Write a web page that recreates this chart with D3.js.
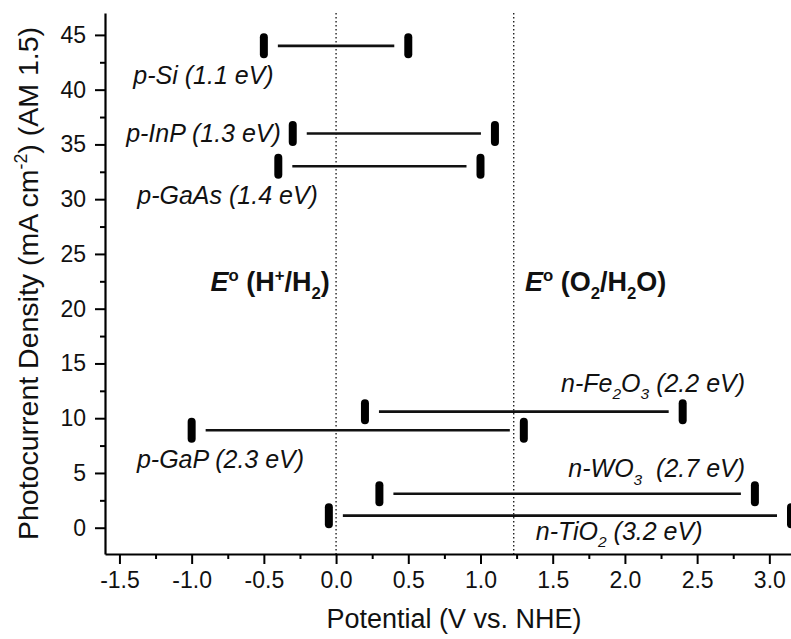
<!DOCTYPE html>
<html>
<head>
<meta charset="utf-8">
<script src="https://cdn.jsdelivr.net/npm/d3@7"></script>
<style>
  body { margin: 0; background: #fff; }
  svg { display: block; font-family: "Liberation Sans", Arial, sans-serif; }
</style>
</head>
<body>
<svg></svg>
<script>
// band edges of each semiconductor (V vs. NHE) and its photocurrent (mA cm-2)
const materials = ["p-Si", "p-InP", "p-GaAs", "n-Fe2O3", "p-GaP", "n-WO3 ", "n-TiO2"];
const bandGaps = ["1.1", "1.3", "1.4", "2.2", "2.3", "2.7", "3.2"];
const cbPotential = [-0.5, -0.3, -0.4, 0.2, -1.0, 0.3, -0.05];
const vbPotential = [0.5, 1.1, 1.0, 2.4, 1.3, 2.9, 3.15];
const photocurrent = [44, 36, 33, 10.6, 8.9, 3.1, 1.1];

// redox potentials drawn as dotted lines
const refPotentials = [0, 1.23];

const xTicks = [-1.5, -1.0, -0.5, 0.0, 0.5, 1.0, 1.5, 2.0, 2.5, 3.0];
const xMinorTicks = [-1.25, -0.75, -0.25, 0.25, 0.75, 1.25, 1.75, 2.25, 2.75];
const yTicks = [0, 5, 10, 15, 20, 25, 30, 35, 40, 45];
const yMinorTicks = [2.5, 7.5, 12.5, 17.5, 22.5, 27.5, 32.5, 37.5, 42.5];

// where each label sits (data units, text centre / baseline)
const labelAnchors = [[-0.918, 40.5], [-0.918, 35.2], [-0.751, 29.55], [2.195, 12.4],
                      [-0.80, 5.45], [2.22, 4.63], [1.96, -1.12]];

const width = 791;
const height = 639;
const margin = {top: 13, right: 0, bottom: 85, left: 105};

const svg = d3.select("svg")
    .attr("width", width)
    .attr("height", height);

const x = d3.scaleLinear()
    .domain([-1.6, 3.15])
    .range([margin.left, width - margin.right]);

const y = d3.scaleLinear()
    .domain([-2.4, 47])
    .range([height - margin.bottom, margin.top]);

const data = materials.map((m, i) => ({
    name: m, gap: bandGaps[i], cb: cbPotential[i], vb: vbPotential[i], j: photocurrent[i]
}));

// append text with sub / sup parts as tspans
function richText(sel, parts, size) {
    let shift = 0;
    parts.forEach(p => {
        const target = p.s === "sub" ? size * 0.3 : p.s === "sup" ? -size * 0.38 : 0;
        sel.append("tspan")
            .attr("dy", target - shift)
            .attr("font-size", p.s ? size * 0.62 : size)
            .attr("font-style", p.i || null)
            .text(p.t);
        shift = target;
    });
}

function formulaParts(name, gap) {
    const parts = [];
    name.split(/(\d)/).forEach(t => {
        if (t === "") return;
        parts.push(/\d/.test(t) ? {t: t, s: "sub"} : {t: t});
    });
    parts.push({t: " (" + gap + " eV)"});
    return parts;
}

// dotted reference lines
svg.selectAll(".ref")
    .data(refPotentials)
    .enter()
    .append("line")
    .attr("class", "ref")
    .attr("x1", d => x(d))
    .attr("x2", d => x(d))
    .attr("y1", y(47))
    .attr("y2", y(-2.4))
    .attr("stroke", "#222")
    .attr("stroke-width", 1.4)
    .attr("stroke-dasharray", "1.4,2.6");

// minor ticks
svg.append("g")
    .attr("transform", `translate(0, ${height - margin.bottom})`)
    .call(d3.axisBottom(x).tickValues(xMinorTicks).tickSize(5).tickFormat(""))
    .call(g => g.select(".domain").remove())
    .selectAll("line").attr("stroke-width", 2);

svg.append("g")
    .attr("transform", `translate(${margin.left}, 0)`)
    .call(d3.axisLeft(y).tickValues(yMinorTicks).tickSize(5).tickFormat(""))
    .call(g => g.select(".domain").remove())
    .selectAll("line").attr("stroke-width", 2);

// main axes
const xAxis = svg.append("g")
    .attr("transform", `translate(0, ${height - margin.bottom})`)
    .call(d3.axisBottom(x).tickValues(xTicks).tickSize(10).tickSizeOuter(0).tickPadding(8)
        .tickFormat(d3.format(".1f")));

const yAxis = svg.append("g")
    .attr("transform", `translate(${margin.left}, 0)`)
    .call(d3.axisLeft(y).tickValues(yTicks).tickSize(10).tickSizeOuter(0).tickPadding(9));

[xAxis, yAxis].forEach(g => {
    g.select(".domain").attr("stroke-width", 2.2);
    g.selectAll(".tick line").attr("stroke-width", 2);
    g.selectAll("text")
        .attr("font-size", 23)
        .attr("font-family", "Liberation Sans, Arial, sans-serif")
        .attr("fill", "#111");
});
xAxis.selectAll("text").text(d => d3.format(".1f")(d).replace("−", "-"));

// connecting lines between band edges
svg.selectAll(".band")
    .data(data)
    .enter()
    .append("line")
    .attr("class", "band")
    .attr("x1", d => x(d.cb) + 14)
    .attr("x2", d => x(d.vb) - 14)
    .attr("y1", d => y(d.j))
    .attr("y2", d => y(d.j))
    .attr("stroke", "#111")
    .attr("stroke-width", 2.6);

// edge markers
const edges = data.flatMap(d => [{v: d.cb, j: d.j}, {v: d.vb, j: d.j}]);
svg.selectAll(".edge")
    .data(edges)
    .enter()
    .append("rect")
    .attr("class", "edge")
    .attr("x", d => x(d.v) - 4)
    .attr("y", d => y(d.j) - 12.5)
    .attr("width", 8)
    .attr("height", 25)
    .attr("rx", 4)
    .attr("fill", "#000");

// material labels
data.forEach((d, i) => {
    const t = svg.append("text")
        .attr("x", x(labelAnchors[i][0]))
        .attr("y", y(labelAnchors[i][1]))
        .attr("text-anchor", "middle")
        .attr("font-style", "italic")
        .attr("fill", "#111")
        .style("white-space", "pre");
    richText(t, formulaParts(d.name, d.gap), 25);
});

// redox labels
const refLabels = [
    {x: -0.457, parts: [{t: "E", i: "italic"}, {t: "o", s: "sup"}, {t: " (H"}, {t: "+", s: "sup"}, {t: "/H"}, {t: "2", s: "sub"}, {t: ")"}]},
    {x: 1.797, parts: [{t: "E", i: "italic"}, {t: "o", s: "sup"}, {t: " (O"}, {t: "2", s: "sub"}, {t: "/H"}, {t: "2", s: "sub"}, {t: "O)"}]}
];
refLabels.forEach(r => {
    const t = svg.append("text")
        .attr("x", x(r.x))
        .attr("y", y(21.6))
        .attr("text-anchor", "middle")
        .attr("font-weight", "bold")
        .attr("fill", "#111");
    richText(t, r.parts, 27);
});

// axis titles
svg.append("text")
    .attr("x", (margin.left + width) / 2 + 6)
    .attr("y", 628)
    .attr("text-anchor", "middle")
    .attr("font-size", 27)
    .attr("fill", "#111")
    .text("Potential (V vs. NHE)");

const yTitle = svg.append("text")
    .attr("transform", `translate(38, ${(margin.top + height - margin.bottom) / 2}) rotate(-90)`)
    .attr("text-anchor", "middle")
    .attr("fill", "#111");
richText(yTitle, [{t: "Photocurrent Density (mA cm"}, {t: "-2", s: "sup"}, {t: ") (AM 1.5)"}], 28.5);
</script>
</body>
</html>
